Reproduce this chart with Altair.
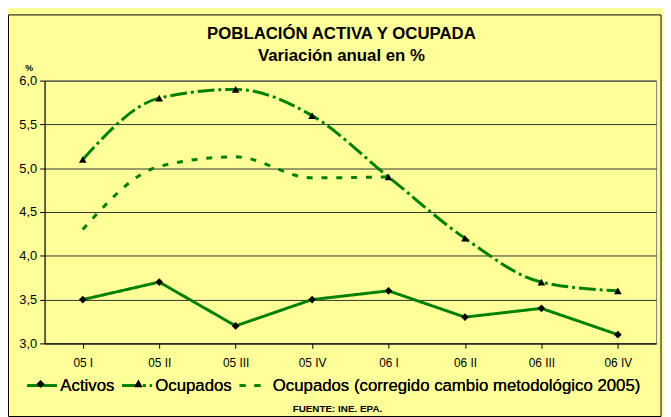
import altair as alt
import pandas as pd

categories = ["05 I", "05 II", "05 III", "05 IV", "06 I", "06 II", "06 III", "06 IV"]
activos = [3.5, 3.7, 3.2, 3.5, 3.6, 3.3, 3.4, 3.1]
ocupados = [5.1, 5.8, 5.9, 5.6, 4.9, 4.2, 3.7, 3.6]
ocupados_corr = [4.3, 5.02, 5.13, 4.89, 4.9, None, None, None]
series = ["Activos", "Ocupados", "Ocupados (corregido cambio metodológico 2005)"]
y_ticks = [3.0, 3.5, 4.0, 4.5, 5.0, 5.5, 6.0]

GREEN = "#008000"
FONT = "Liberation Sans"
W, H = 619, 266

rows = []
for name, vals in zip(series, [activos, ocupados, ocupados_corr]):
    for c, v in zip(categories, vals):
        if v is not None:
            rows.append({"cat": c, "value": v, "serie": name, "marcador": "m"})
df = pd.DataFrame(rows)

x_enc = alt.X(
    "cat:N",
    sort=categories,
    scale=alt.Scale(domain=categories, paddingInner=0, paddingOuter=0),
    axis=alt.Axis(
        title="FUENTE: INE. EPA.",
        titleX=296, titleY=66, titleFontSize=10, titleFontWeight="bold",
        titleFont=FONT, titleColor="black", titleAlign="center", titleBaseline="middle",
        labelAngle=0, labelFontSize=12, labelFont=FONT, labelColor="black",
        labelPadding=9, bandPosition=0,
        tickSize=5, tickColor="black", domainColor="black", grid=False,
    ),
)
y_scale = alt.Scale(domain=[3, 6], nice=False, zero=False)
y_enc = alt.Y(
    "value:Q",
    scale=y_scale,
    axis=alt.Axis(
        values=y_ticks,
        labelExpr="replace(format(datum.value, '.1f'), '.', ',')",
        title="%", titleAngle=0, titleX=-16, titleY=-13, titleFontSize=9,
        titleFontWeight="bold", titleFont=FONT, titleColor="black",
        titleAlign="center", titleBaseline="middle",
        labelFontSize=13, labelFont=FONT, labelColor="black", labelPadding=3,
        tickSize=5, tickColor="black", domainColor="black",
        grid=True, gridColor="#333333", gridOpacity=1,
    ),
)

dash_enc = alt.StrokeDash(
    "serie:N",
    scale=alt.Scale(domain=series, range=[[1, 0], [17, 4, 3, 4], [6, 9]]),
    legend=alt.Legend(
        title=None, orient="none", legendX=-19, legendY=292,
        direction="horizontal", columns=3, columnPadding=1,
        symbolType="stroke", symbolSize=900, symbolStrokeWidth=3,
        symbolStrokeColor=GREEN, padding=0,
        labelFontSize=17, labelFont=FONT, labelOffset=2, labelLimit=600,
        labelColor="black",
    ),
)

base = alt.Chart(df)

frame = alt.Chart(pd.DataFrame({"a": [0]})).mark_rect(
    fillOpacity=0, stroke="black", strokeWidth=1
).encode(
    x=alt.value(-36.5), x2=alt.value(624), y=alt.value(-66.5), y2=alt.value(340)
)

line_act = base.transform_filter(alt.datum.serie == series[0]).mark_line(
    color=GREEN, strokeWidth=3
).encode(x=x_enc, y=y_enc, strokeDash=dash_enc)

line_smooth = base.transform_filter(alt.datum.serie != series[0]).mark_line(
    color=GREEN, strokeWidth=3, interpolate="monotone"
).encode(x="cat:N", y="value:Q", strokeDash=dash_enc, detail="serie:N")

pts_act = base.transform_filter(alt.datum.serie == series[0]).mark_point(
    shape="diamond", filled=True, color="black", size=60, opacity=1
).encode(x="cat:N", y="value:Q")

pts_ocu = base.transform_filter(alt.datum.serie == series[1]).mark_point(
    shape="triangle-up", filled=True, color="black", size=60, opacity=1
).encode(x="cat:N", y="value:Q")

# legend markers (diamond for Activos, triangle for Ocupados) drawn over the legend lines
marker_path = "M0,-0.27L0.27,0L0,0.27L-0.27,0ZM6.6,-0.3L6.89,0.22L6.31,0.22Z"
legend_markers = base.transform_filter("false").mark_point(
    filled=True, color="black", opacity=1
).encode(
    x="cat:N", y="value:Q",
    shape=alt.Shape(
        "marcador:N",
        scale=alt.Scale(domain=["m"], range=[marker_path]),
        legend=alt.Legend(
            title=None, orient="none", legendX=-19, legendY=292,
            symbolSize=900, padding=0, labelExpr="''", labelOffset=0,
            symbolFillColor="black", symbolStrokeWidth=0, symbolOpacity=1,
        ),
    ),
)

chart = alt.layer(
    frame, line_act, line_smooth, pts_act, pts_ocu, legend_markers
).resolve_legend(shape="independent", strokeDash="independent").properties(
    width=W, height=H,
    title=alt.TitleParams(
        text="POBLACIÓN ACTIVA Y OCUPADA", subtitle="Variación anual en %",
        fontSize=17, subtitleFontSize=17, fontWeight="bold", subtitleFontWeight="bold",
        font=FONT, subtitleFont=FONT, color="black", subtitleColor="black",
        anchor="middle", frame="group", dx=-9, offset=-51, subtitlePadding=5,
    ),
    autosize=alt.AutoSizeParams(type="none"),
    padding={"left": 37, "top": 71, "right": 7, "bottom": 72},
    background="#FFFF99",
).configure_view(stroke="#808080")

chart.save("out.html", embed_options={"renderer": "svg", "actions": False})
